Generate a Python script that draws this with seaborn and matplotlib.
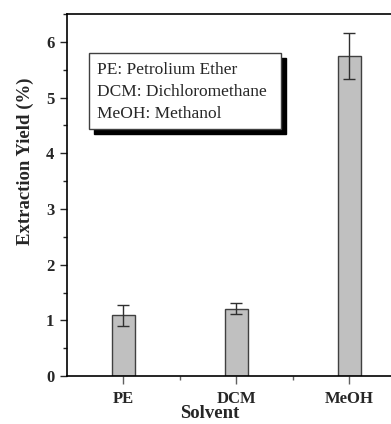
import matplotlib
matplotlib.use("Agg")
import matplotlib.pyplot as plt
from matplotlib.patches import Rectangle
from matplotlib.ticker import MultipleLocator, FixedLocator
import seaborn as sns
import pandas as pd

# data
solvents = ["PE", "DCM", "MeOH"]
yields = [1.09, 1.21, 5.75]
errors = [0.19, 0.10, 0.41]
notes = ["PE: Petrolium Ether", "DCM: Dichloromethane", "MeOH: Methanol"]

df = pd.DataFrame({"Solvent": solvents, "Yield": yields})

sns.set_style("ticks")
plt.rcParams["font.family"] = ["Liberation Serif", "DejaVu Serif"]

fig = plt.figure(figsize=(3.91, 4.24), dpi=100)
ax = fig.add_axes([0.171, 0.113, 0.829, 0.854])

sns.barplot(data=df, x="Solvent", y="Yield", color="#c0c0c0", width=0.2,
            edgecolor="#404040", linewidth=1.0, saturation=1, ax=ax)
ax.errorbar(range(len(solvents)), yields, yerr=errors, fmt="none",
            ecolor="#303030", elinewidth=1.0, capsize=4, capthick=1.0)

ax.set_xlim(-0.5, 2.37)
ax.set_ylim(0, 6.5)
ax.yaxis.set_major_locator(MultipleLocator(1))
ax.yaxis.set_minor_locator(MultipleLocator(0.5))
ax.xaxis.set_minor_locator(FixedLocator([0.5, 1.5]))

for s in ["left", "bottom", "top"]:
    ax.spines[s].set_color("black")
    ax.spines[s].set_linewidth(1.2)
ax.spines["right"].set_visible(False)

ax.tick_params(axis="y", which="major", direction="out", length=5, width=1,
               labelsize=12, pad=4)
ax.tick_params(axis="y", which="minor", direction="out", length=3, width=1)
ax.tick_params(axis="x", which="major", direction="out", length=6, width=1,
               labelsize=12, pad=5, color="#606060")
ax.tick_params(axis="x", which="minor", direction="out", length=3, width=1,
               color="#606060")
for lbl in ax.get_xticklabels() + ax.get_yticklabels():
    lbl.set_fontweight("bold")

ax.set_xlabel("Solvent", fontsize=13.5, fontweight="bold")
ax.xaxis.set_label_coords(0.44, -0.128)
ax.xaxis.label.set_va("bottom")
ax.set_ylabel("Extraction Yield (%)", fontsize=13.5, fontweight="bold")
ax.yaxis.set_label_coords(-0.1, 0.594)

# note box with shadow
bx, by, bw, bh = 0.068, 0.682, 0.592, 0.21
ax.add_patch(Rectangle((bx + 0.015, by - 0.014), bw, bh, transform=ax.transAxes,
                       facecolor="black", edgecolor="black", zorder=5))
ax.add_patch(Rectangle((bx, by), bw, bh, transform=ax.transAxes,
                       facecolor="white", edgecolor="#404040", linewidth=1, zorder=6))
for i, t in enumerate(notes):
    ax.text(bx + 0.025, 0.845 - i * 0.06, t, transform=ax.transAxes,
            fontsize=12.5, va="center", ha="left", zorder=7)

fig.savefig("out.png", dpi=100)
